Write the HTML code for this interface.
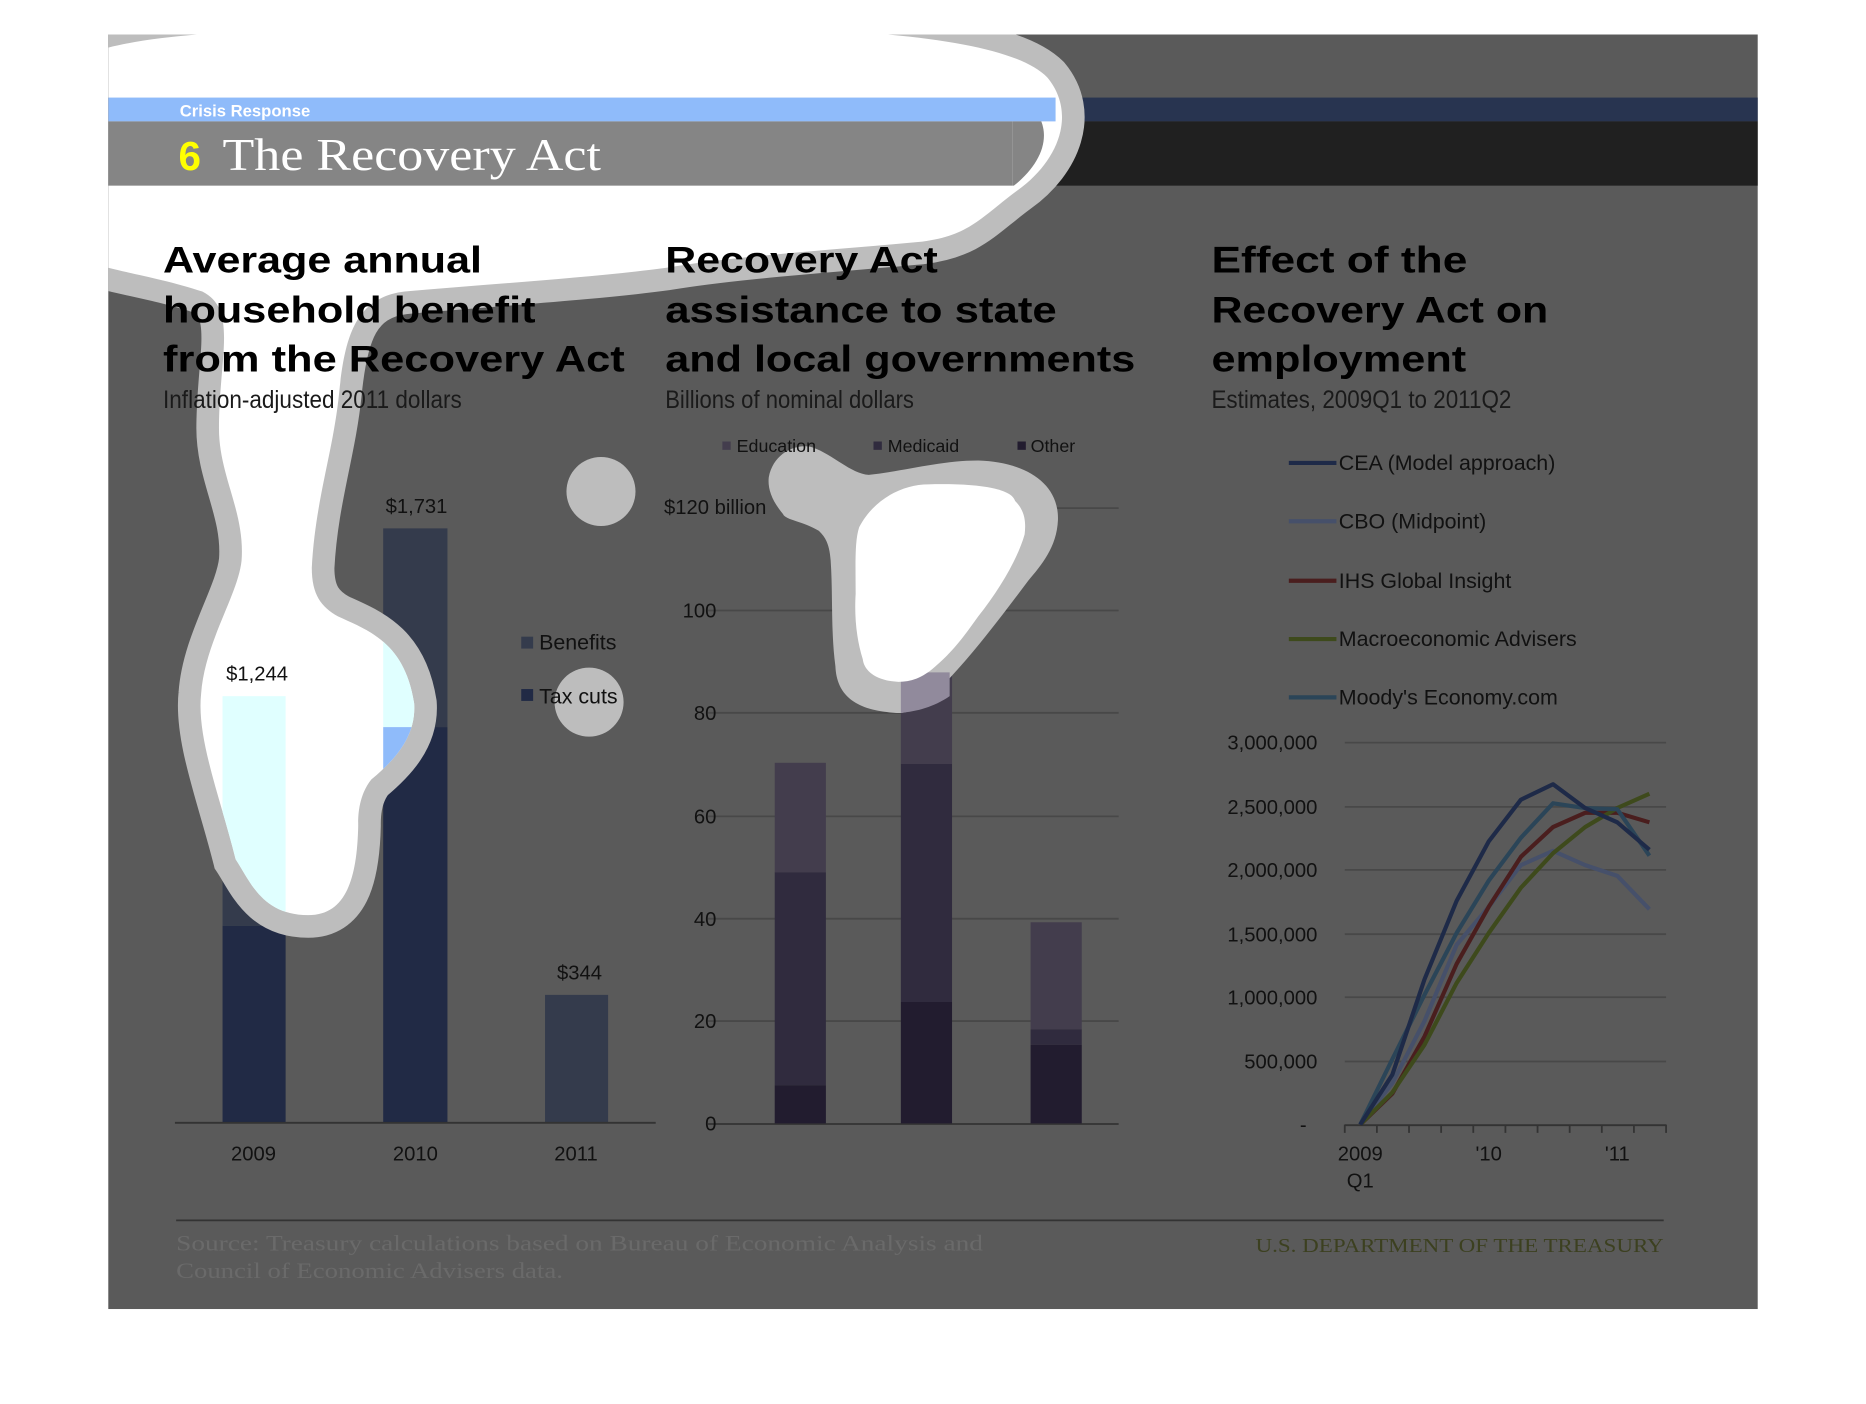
<!DOCTYPE html>
<html><head><meta charset="utf-8"><style>html,body{margin:0;padding:0;background:#fff}svg{display:block}</style></head><body>
<svg width="1866" height="1404" viewBox="0 0 1568 1179.8" preserveAspectRatio="none" xmlns="http://www.w3.org/2000/svg" font-family="Liberation Sans, sans-serif">
<defs>
<clipPath id="panel"><rect x="91" y="29" width="1386" height="1071"/></clipPath>
<clipPath id="blobc"><path id="bp" d="M91,40 C150,25 250,25 330,22 C450,18 550,20 600,22 C750,25 850,35 880,65 C905,95 890,135 855,160 C825,182 815,198 775,203 C700,210 620,215 560,225 C500,233 420,238 340,245 C300,250 290,280 285,330 C280,380 265,420 262,477 C262,500 270,510 284,518 C310,530 340,540 348,591 C350,620 330,640 312,655 C300,670 301,690 301,694 C300,740 290,769 259,769 C220,769 210,740 198,722 C185,670 165,620 169,583 C172,540 200,500 203,471 C206,430 184,400 184,360 C184,300 200,260 170,245 C140,235 110,230 91,225 Z"/></clipPath>
</defs>
<rect x="91" y="29" width="1386" height="1071" fill="#5a5a5a"/>
<rect x="91" y="82" width="1386" height="20" fill="#283450"/>
<rect x="91" y="102" width="1386" height="54" fill="#202020"/>
<rect x="187" y="585" width="53" height="193" fill="#343b4c"/>
<rect x="187" y="778" width="53" height="165" fill="#212a45"/>
<rect x="322" y="444" width="54" height="167" fill="#343b4c"/>
<rect x="322" y="611" width="54" height="332" fill="#212a45"/>
<rect x="458" y="836" width="53" height="107" fill="#343b4c"/>
<line x1="147" y1="943.5" x2="551" y2="943.5" stroke="#333" stroke-width="1.5"/>
<g clip-path="url(#panel)">
<use href="#bp" fill="none" stroke="#bdbdbd" stroke-width="38"/>
<use href="#bp" fill="#fff"/>
<rect x="91" y="82" width="796" height="20" fill="#8fbbfa"/>
<rect x="91" y="102" width="760" height="54" fill="#858585"/>
<path d="M851,102 L875,102 C882,120 872,140 852,156 L851,156 Z" fill="#858585"/>
</g>
<g clip-path="url(#blobc)">
<rect x="187" y="585" width="53" height="358" fill="#e0ffff"/>
<rect x="322" y="444" width="54" height="167" fill="#e0ffff"/>
<rect x="322" y="611" width="54" height="332" fill="#8fbbfa"/>
</g>
<circle cx="505" cy="413" r="29" fill="#bdbdbd"/>
<circle cx="495" cy="590" r="29" fill="#bdbdbd"/>
<text x="151" y="98" fill="#fff" font-size="14" font-weight="bold">Crisis Response</text>
<text x="150" y="143" fill="#ffff00" font-size="34" font-weight="bold">6</text>
<text x="187" y="143" fill="#fff" font-size="38" font-family="Liberation Serif, serif" textLength="318" lengthAdjust="spacingAndGlyphs">The Recovery Act</text>
<g font-size="31" font-weight="bold" fill="#000">
<text x="137" y="229" textLength="268" lengthAdjust="spacingAndGlyphs">Average annual</text>
<text x="137" y="271" textLength="313" lengthAdjust="spacingAndGlyphs">household benefit</text>
<text x="137" y="312" textLength="388" lengthAdjust="spacingAndGlyphs">from the Recovery Act</text>
<text x="559" y="229" textLength="229" lengthAdjust="spacingAndGlyphs">Recovery Act</text>
<text x="559" y="271" textLength="329" lengthAdjust="spacingAndGlyphs">assistance to state</text>
<text x="559" y="312" textLength="395" lengthAdjust="spacingAndGlyphs">and local governments</text>
<text x="1018" y="229" textLength="215" lengthAdjust="spacingAndGlyphs">Effect of the</text>
<text x="1018" y="271" textLength="283" lengthAdjust="spacingAndGlyphs">Recovery Act on</text>
<text x="1018" y="312" textLength="214" lengthAdjust="spacingAndGlyphs">employment</text>
</g>
<g font-size="21" fill="#1a1a1a">
<text x="137" y="343" textLength="251" lengthAdjust="spacingAndGlyphs">Inflation-adjusted 2011 dollars</text>
<text x="559" y="343" textLength="209" lengthAdjust="spacingAndGlyphs">Billions of nominal dollars</text>
<text x="1018" y="343" textLength="252" lengthAdjust="spacingAndGlyphs">Estimates, 2009Q1 to 2011Q2</text>
</g>
<g font-size="17" fill="#111" text-anchor="middle">
<text x="216" y="572">$1,244</text><text x="350" y="431">$1,731</text><text x="487" y="823">$344</text>
<text x="213" y="975">2009</text><text x="349" y="975">2010</text><text x="484" y="975">2011</text>
</g>
<rect x="438" y="535" width="10" height="10" fill="#343b4c"/><text x="453" y="546" font-size="18" fill="#111">Benefits</text>
<rect x="438" y="579" width="10" height="10" fill="#212a45"/><text x="453" y="591" font-size="18" fill="#111">Tax cuts</text>
<g stroke="#484848" stroke-width="1.5">
<line x1="680" y1="427" x2="940" y2="427"/><line x1="595" y1="513" x2="940" y2="513"/><line x1="595" y1="599" x2="940" y2="599"/>
<line x1="595" y1="686" x2="940" y2="686"/><line x1="595" y1="772" x2="940" y2="772"/><line x1="595" y1="858" x2="940" y2="858"/>
</g>
<line x1="595" y1="944.5" x2="940" y2="944.5" stroke="#333" stroke-width="1.5"/>
<g font-size="17" fill="#111" text-anchor="end">
<text x="602" y="519">100</text><text x="602" y="605">80</text><text x="602" y="692">60</text><text x="602" y="778">40</text><text x="602" y="864">20</text><text x="602" y="950">0</text>
</g>
<text x="558" y="432" font-size="17" fill="#111">$120 billion</text>
<rect x="651" y="641" width="43" height="92" fill="#433d4d"/>
<rect x="651" y="733" width="43" height="179" fill="#302b3e"/>
<rect x="651" y="912" width="43" height="32" fill="#221c2f"/>
<rect x="757" y="555" width="43" height="87" fill="#433d4d"/>
<rect x="757" y="642" width="43" height="200" fill="#302b3e"/>
<rect x="757" y="842" width="43" height="102" fill="#221c2f"/>
<rect x="866" y="775" width="43" height="90" fill="#433d4d"/>
<rect x="866" y="865" width="43" height="13" fill="#302b3e"/>
<rect x="866" y="878" width="43" height="66" fill="#221c2f"/>
<path d="M646,401 C650,380 670,372 683,376 C700,382 715,398 730,399 C760,396 790,387 822,387 C860,388 890,405 889,437 C888,460 875,475 864,488 C840,520 810,560 780,588 C770,597 760,600 752,599 C720,597 703,585 702,560 C698,530 700,500 698,471 C697,455 692,450 688,446 C675,438 660,437 658,432 C648,420 645,410 646,401 Z" fill="#bdbdbd"/>
<path d="M757,565 L798,565 L798,585 C785,594 770,598 757,599 Z" fill="#918a9c"/>
<path d="M722,443 C735,418 760,407 780,407 C820,406 850,410 853,421 C862,430 862,440 861,449 C855,470 840,495 822,518 C810,535 800,548 786,560 C775,570 765,573 755,573 C735,572 726,563 725,554 C719,535 718,515 719,499 C719,475 718,455 722,443 Z" fill="#fff"/>
<g font-size="15" fill="#111">
<rect x="607" y="371" width="7" height="7" fill="#433d4d"/><text x="619" y="380">Education</text>
<rect x="734" y="371" width="7" height="7" fill="#302b3e"/><text x="746" y="380">Medicaid</text>
<rect x="855" y="371" width="7" height="7" fill="#221c2f"/><text x="866" y="380">Other</text>
</g>
<g stroke="#484848" stroke-width="1.5">
<line x1="1130" y1="624" x2="1400" y2="624"/><line x1="1130" y1="678" x2="1400" y2="678"/><line x1="1130" y1="731" x2="1400" y2="731"/>
<line x1="1130" y1="785" x2="1400" y2="785"/><line x1="1130" y1="838" x2="1400" y2="838"/><line x1="1130" y1="892" x2="1400" y2="892"/>
</g>
<g font-size="17" fill="#111" text-anchor="end">
<text x="1107" y="630">3,000,000</text><text x="1107" y="684">2,500,000</text><text x="1107" y="737">2,000,000</text>
<text x="1107" y="791">1,500,000</text><text x="1107" y="844">1,000,000</text><text x="1107" y="898">500,000</text><text x="1098" y="951">-</text>
</g>
<g stroke="#333" stroke-width="1.5">
<line x1="1130" y1="945.5" x2="1400" y2="945.5"/>
<path d="M1130,945v7M1157,945v7M1184,945v7M1211,945v7M1238,945v7M1265,945v7M1292,945v7M1319,945v7M1346,945v7M1373,945v7M1400,945v7"/>
</g>
<g font-size="17" fill="#111" text-anchor="middle">
<text x="1143" y="975">2009</text><text x="1143" y="998">Q1</text><text x="1251" y="975">'10</text><text x="1359" y="975">'11</text>
</g>
<g fill="none" stroke-width="3.5" stroke-linejoin="round">
<polyline stroke="#46506a" points="1143,945 1170,910 1197,858 1224,794 1251,762 1278,727 1305,715 1332,727 1359,736 1386,764"/>
<polyline stroke="#4a1e1e" points="1143,945 1170,919 1197,871 1224,810 1251,762 1278,720 1305,695 1332,683 1359,683 1386,691"/>
<polyline stroke="#3e4a1c" points="1143,945 1170,918 1197,878 1224,826 1251,784 1278,746 1305,717 1332,695 1359,679 1386,667"/>
<polyline stroke="#2b4558" points="1143,945 1170,890 1197,836 1224,784 1251,740 1278,704 1305,675 1332,679 1359,680 1386,719"/>
<polyline stroke="#1e2a48" points="1143,945 1170,903 1197,823 1224,757 1251,707 1278,672 1305,659 1332,679 1359,691 1386,714"/>
</g>
<g stroke-width="3.5">
<line x1="1083" y1="389" x2="1123" y2="389" stroke="#1e2a48"/>
<line x1="1083" y1="438" x2="1123" y2="438" stroke="#46506a"/>
<line x1="1083" y1="488" x2="1123" y2="488" stroke="#4a1e1e"/>
<line x1="1083" y1="537" x2="1123" y2="537" stroke="#3e4a1c"/>
<line x1="1083" y1="586" x2="1123" y2="586" stroke="#2b4558"/>
</g>
<g font-size="18" fill="#111">
<text x="1125" y="395">CEA (Model approach)</text><text x="1125" y="444">CBO (Midpoint)</text><text x="1125" y="494">IHS Global Insight</text>
<text x="1125" y="543">Macroeconomic Advisers</text><text x="1125" y="592">Moody's Economy.com</text>
</g>
<line x1="148" y1="1025.5" x2="1398" y2="1025.5" stroke="#333" stroke-width="1.5"/>
<g font-family="Liberation Serif, serif" font-size="19" fill="#6a6a6a">
<text x="148" y="1051" textLength="678" lengthAdjust="spacingAndGlyphs">Source: Treasury calculations based on Bureau of Economic Analysis and</text>
<text x="148" y="1074" textLength="325" lengthAdjust="spacingAndGlyphs">Council of Economic Advisers data.</text>
</g>
<text x="1398" y="1052" font-family="Liberation Serif, serif" font-size="17" fill="#3c4020" text-anchor="end" textLength="343" lengthAdjust="spacingAndGlyphs">U.S. DEPARTMENT OF THE TREASURY</text>
</svg>
</body></html>
